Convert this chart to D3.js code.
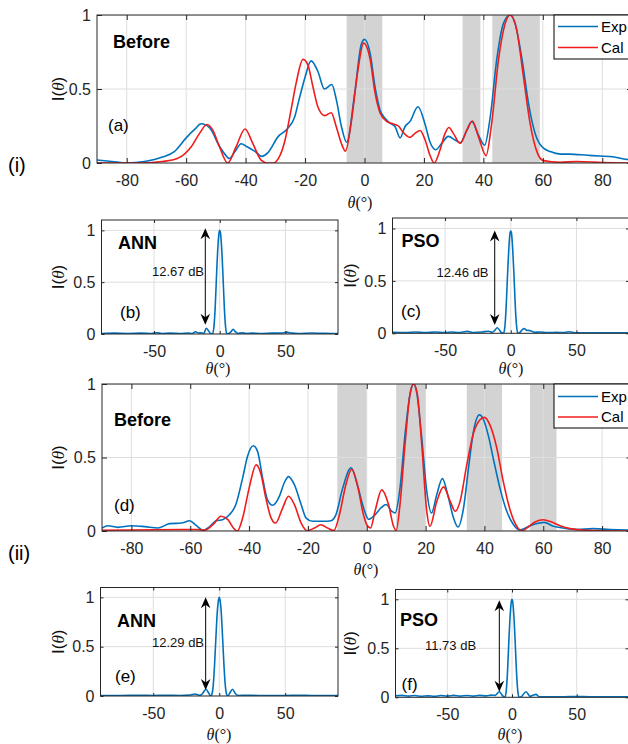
<!DOCTYPE html>
<html><head><meta charset="utf-8">
<script src="https://cdn.jsdelivr.net/npm/d3@7"></script>
<style>html,body{margin:0;padding:0;background:#fff}svg{display:block}</style>
</head><body><svg id="c" width="628" height="744"></svg>
<script>
// ---------- DATA ----------
const xTicksBig = [-80,-60,-40,-20,0,20,40,60,80];
const xTicksSmall = [-50,0,50];
const yTicks = [0,0.5,1];
const seriesNames = ["Exp","Cal"];

// (a) Before, case (i)
const thA_exp = [-90,-85,-80,-74,-68,-64,-60,-57,-55,-52,-49,-47,-45.5,-43.5,-41.5,-39.5,-37,-34.5,-32.5,-29,-26,-23.5,-22,-20,-18,-15.7,-13.5,-11,-9.5,-7.8,-6,-3.3,-1.1,0,1.9,3.5,5.2,7,8.6,10.3,12,13.6,15.3,18,20.4,22,24,26,28.2,30.5,32.2,34.4,36.1,38.3,40.4,42.3,44.5,46.7,49,50.7,53,55.2,57.4,59.7,62.5,66,69,75,79,84,88,90];
const vA_exp  = [0.02,0.01,0.0,0.01,0.04,0.077,0.17,0.23,0.265,0.235,0.12,0.06,0.03,0.08,0.13,0.11,0.08,0.045,0.07,0.18,0.23,0.31,0.43,0.58,0.69,0.62,0.50,0.53,0.43,0.25,0.14,0.47,0.80,0.835,0.74,0.52,0.36,0.30,0.27,0.245,0.17,0.245,0.28,0.38,0.26,0.144,0.09,0.133,0.18,0.155,0.137,0.22,0.28,0.19,0.12,0.31,0.70,0.94,1.0,0.94,0.70,0.40,0.20,0.11,0.077,0.06,0.06,0.052,0.047,0.04,0.025,0.02];
const thA_cal = [-90,-75,-68,-63,-58.3,-55.5,-53,-51,-48.8,-46,-43.2,-40.2,-37.6,-34.8,-32.5,-30.5,-29.7,-27,-24.7,-23,-20.7,-19,-17.4,-15.7,-13.4,-11.2,-9.5,-7.8,-6.4,-4.5,-2.2,-0.3,1.9,3.5,5.2,7.5,9.7,11.4,13.1,15.3,17,18.7,20.4,22,23.4,25.4,27.1,28.4,29.9,32.2,34.4,36.3,38.3,40.9,42.8,45.1,47.3,49,51.2,53.5,55.7,58,60.2,65.8,71.4,80,90];
const vA_cal  = [0,0,0.01,0.03,0.11,0.20,0.26,0.22,0.11,0.0,0.11,0.23,0.133,0.02,0.0,0.0,0.01,0.133,0.36,0.54,0.70,0.66,0.52,0.38,0.32,0.34,0.245,0.133,0.08,0.27,0.63,0.81,0.70,0.48,0.34,0.28,0.264,0.25,0.205,0.173,0.20,0.22,0.155,0.054,0.0,0.088,0.20,0.24,0.20,0.133,0.22,0.284,0.18,0.05,0.27,0.70,0.94,1.0,0.90,0.58,0.27,0.077,0.016,0.005,0.01,0.003,0.0];
const bandsA = [[-6,6],[33,39],[43,59]];

// (b) ANN, case (i)
const thB = [-90,-80,-70,-60,-52,-48,-44,-38,-30,-24,-21,-18.5,-16,-14,-12,-10.3,-8.5,-7,-5.5,-4.5,-3.5,-2.5,-1.5,-0.5,0,0.5,1.5,2.5,3.5,4.5,5.5,7,8.5,10.2,12,14,17,20,25,30,40,48,51,55,60,70,80,90];
const vB  = [0.005,0.008,0.005,0.008,0.005,0.012,0.005,0.008,0.005,0.01,0.005,0.022,0.01,0.012,0.005,0.056,0.03,0.005,0.0,0.06,0.25,0.55,0.82,0.98,1.0,0.98,0.82,0.55,0.25,0.06,0.0,0.005,0.02,0.046,0.02,0.005,0.012,0.005,0.008,0.005,0.008,0.01,0.018,0.008,0.005,0.01,0.006,0.005];
// (c) PSO, case (i)
const thC = [-90,-80,-72,-65,-58,-50,-45,-40,-33,-28,-22,-17,-14,-12,-10.4,-8.5,-7,-5.5,-4.5,-3.5,-2.5,-1.5,-0.5,0,0.5,1.5,2.5,3.5,4.5,5.5,7,8.5,10.2,12,15,18,22,28,35,40,44,50,60,70,80,90];
const vC  = [0.01,0.008,0.012,0.006,0.012,0.008,0.012,0.006,0.018,0.008,0.012,0.02,0.01,0.03,0.053,0.03,0.005,0.0,0.06,0.25,0.54,0.80,0.96,0.975,0.96,0.80,0.54,0.25,0.06,0.0,0.01,0.03,0.046,0.03,0.025,0.01,0.012,0.006,0.01,0.006,0.015,0.005,0.005,0.004,0.004,0.005];

// (d) Before, case (ii)
const thD_exp = [-90,-88,-84.6,-80,-75.5,-71,-67,-63,-60.2,-58,-55.5,-53.4,-51.2,-49,-46.7,-44.5,-42.2,-40.5,-38.6,-37.1,-35.4,-33.7,-32,-29.7,-28,-26.6,-24.6,-22.3,-20.6,-18.4,-14.4,-12.2,-10.5,-8.2,-5.3,-3.2,-0.9,0.6,2.8,5,6.6,8.5,9.6,11.3,13,14.7,16,17,18.7,20.4,22,23.8,25.7,27.8,29.5,31,32.9,34.6,36.3,38.3,39.7,41.4,43.1,45.3,47.6,49.9,52.1,54.4,57.2,60.3,63.5,66.9,71.4,77,82.7,88.4,90];
const vD_exp  = [0.02,0.036,0.025,0.036,0.03,0.02,0.05,0.054,0.07,0.038,0.005,0.03,0.07,0.077,0.11,0.18,0.36,0.51,0.58,0.54,0.36,0.21,0.175,0.236,0.33,0.37,0.315,0.18,0.088,0.066,0.066,0.07,0.11,0.29,0.43,0.315,0.145,0.08,0.11,0.16,0.18,0.134,0.122,0.29,0.655,0.93,1.0,0.94,0.63,0.27,0.122,0.247,0.356,0.224,0.088,0.027,0.156,0.43,0.68,0.79,0.757,0.644,0.485,0.29,0.134,0.043,0.007,0.025,0.048,0.059,0.032,0.02,0.01,0.016,0.01,0.007,0.005];
const thD_cal = [-90,-63,-57.4,-55.2,-52.3,-49.5,-47.2,-45.5,-44,-42.2,-40,-37.6,-36,-34.3,-32.6,-31,-28.6,-26.6,-24.6,-22.3,-20.3,-17.8,-15.6,-13.3,-11.2,-9.3,-7.1,-5.1,-3.2,-1.1,0,1.3,2.8,5.1,7.4,9.1,10,11.3,13,14.7,15.9,17.2,18.7,20.4,21.5,23.8,26.1,28.4,30.1,31.7,34,36.3,38.5,40,41.9,44.2,46.4,48.7,51,52.7,54.4,57.2,60,62.9,65.7,69.1,74.8,90];
const vD_cal  = [0.005,0.01,0.01,0.005,0.043,0.10,0.077,0.025,0.0,0.088,0.29,0.45,0.39,0.224,0.093,0.054,0.156,0.236,0.18,0.054,0.002,0.02,0.043,0.02,0.003,0.11,0.315,0.42,0.315,0.11,0.043,0.02,0.134,0.28,0.18,0.032,0.003,0.18,0.587,0.93,1.0,0.93,0.587,0.134,0.032,0.20,0.30,0.20,0.134,0.20,0.45,0.667,0.757,0.773,0.72,0.565,0.338,0.145,0.032,0.0,0.02,0.061,0.077,0.061,0.036,0.016,0.005,0.0];
const bandsD = [[-10,0],[10,20],[34,46],[55.5,64.5]];

// (e) ANN, case (ii)
const thE = [-90,-75,-60,-50,-40,-30,-22,-18.5,-15,-13,-10,-8,-6.5,-5.5,-4.5,-3.5,-2.5,-1.5,-0.5,0,0.5,1.5,2.5,3.5,4.5,5.5,6.5,8,10,12.5,15,20,30,40,50,60,70,80,90];
const vE  = [0.005,0.005,0.008,0.005,0.008,0.005,0.01,0.02,0.008,0.02,0.068,0.03,0.0,0.02,0.12,0.33,0.6,0.85,0.98,1.0,0.98,0.85,0.6,0.33,0.12,0.02,0.0,0.03,0.068,0.02,0.005,0.008,0.005,0.005,0.005,0.008,0.005,0.005,0.005];
// (f) PSO, case (ii)
const thF = [-90,-85,-80,-75,-70,-65,-60,-55,-50,-45,-40,-35,-30,-25,-20,-16,-13,-9.8,-7.5,-5.5,-4.5,-3.5,-2.5,-1.5,-0.5,0,0.5,1.5,2.5,3.5,4.5,5.5,7.5,10.8,14,16,18.5,21,25,30,40,50,60,70,80,90];
const vF  = [0.015,0.02,0.012,0.018,0.01,0.015,0.01,0.018,0.012,0.02,0.012,0.018,0.012,0.02,0.015,0.022,0.02,0.057,0.02,0.0,0.06,0.25,0.55,0.82,0.98,1.0,0.98,0.82,0.55,0.25,0.06,0.0,0.01,0.057,0.01,0.02,0.03,0.005,0.005,0.005,0.005,0.008,0.005,0.005,0.006,0.005];

// dB annotations
const dbLabels = ["12.67 dB","12.46 dB","12.29 dB","11.73 dB"];

// ---------- DRAW ----------
const SANS = "'Liberation Sans', Arial, Helvetica, sans-serif";
const SERIF = "'Liberation Serif', 'Times New Roman', serif";
const BLUE = "#0072BD", RED = "#f01c1c", AXC = "#262626", GRID = "#dedede", BAND = "#d3d3d3";
const svg = d3.select("#c");
svg.append("rect").attr("width",628).attr("height",744).attr("fill","#fff");
const zip = (a,b) => a.map((t,i)=>[t,b[i]]);

let clipId = 0;
function panel(cfg){
  const g = svg.append("g");
  const x = d3.scaleLinear().domain([-90,90]).range([cfg.l,cfg.r]);
  const y = d3.scaleLinear().domain([0,cfg.ymax]).range([cfg.b,cfg.t]);
  const id = "clip"+(clipId++);
  g.append("clipPath").attr("id",id).append("rect")
    .attr("x",cfg.l).attr("y",cfg.t).attr("width",cfg.r-cfg.l).attr("height",cfg.b-cfg.t);
  const plot = g.append("g").attr("clip-path",`url(#${id})`);
  (cfg.bands||[]).forEach(b=>{
    plot.append("rect").attr("x",x(b[0])).attr("y",cfg.t).attr("width",x(b[1])-x(b[0]))
      .attr("height",cfg.b-cfg.t).attr("fill",BAND);
  });
  cfg.xticks.forEach(v=>plot.append("line").attr("x1",x(v)).attr("x2",x(v)).attr("y1",cfg.t).attr("y2",cfg.b)
    .attr("stroke",GRID).attr("stroke-width",1));
  yTicks.forEach(v=>plot.append("line").attr("x1",cfg.l).attr("x2",cfg.r).attr("y1",y(v)).attr("y2",y(v))
    .attr("stroke",GRID).attr("stroke-width",1));
  const line = d3.line().x(d=>x(d[0])).y(d=>y(d[1])).curve(d3.curveMonotoneX);
  cfg.series.forEach(s=>{
    plot.append("path").datum(s.data).attr("d",line).attr("fill","none")
      .attr("stroke",s.color).attr("stroke-width",1.6).attr("stroke-linejoin","round");
  });
  const tl = cfg.tl;
  const fmt = d=>String(d);
  g.append("g").attr("transform",`translate(0,${cfg.b})`)
    .call(d3.axisBottom(x).tickValues(cfg.xticks).tickFormat(fmt).tickSize(-tl).tickSizeOuter(0).tickPadding(11.5));
  g.append("g").attr("transform",`translate(0,${cfg.t})`)
    .call(d3.axisTop(x).tickValues(cfg.xticks).tickFormat("").tickSize(-tl).tickSizeOuter(0));
  g.append("g").attr("transform",`translate(${cfg.l},0)`)
    .call(d3.axisLeft(y).tickValues(yTicks).tickFormat(fmt).tickSize(-tl).tickSizeOuter(0).tickPadding(6));
  g.append("g").attr("transform",`translate(${cfg.r},0)`)
    .call(d3.axisRight(y).tickValues(yTicks).tickFormat("").tickSize(-tl).tickSizeOuter(0));
  g.selectAll(".domain").remove();
  g.selectAll(".tick line").attr("stroke",AXC);
  g.selectAll(".tick text").attr("fill",AXC).style("font-family",SANS).style("font-size","16px");
  g.append("rect").attr("x",cfg.l).attr("y",cfg.t).attr("width",cfg.r-cfg.l).attr("height",cfg.b-cfg.t)
    .attr("fill","none").attr("stroke",AXC).attr("stroke-width",1);

  // y label I(θ)
  const yl = g.append("text").attr("transform",`translate(${cfg.ylx},${(cfg.t+cfg.b)/2}) rotate(-90)`)
    .attr("text-anchor","middle").style("font-family",SANS).style("font-size","17px").attr("fill","#111");
  yl.append("tspan").text("I(");
  yl.append("tspan").style("font-family",SERIF).style("font-style","italic").text("θ");
  yl.append("tspan").text(")");
  // x label θ(°)
  const xl = g.append("text").attr("x",cfg.xlx).attr("y",cfg.xly).attr("text-anchor","middle")
    .style("font-family",SERIF).style("font-size","16px").attr("fill","#111");
  xl.append("tspan").style("font-style","italic").text("θ");
  xl.append("tspan").text("(°)");

  // title & letter
  g.append("text").attr("x",cfg.title[1]).attr("y",cfg.title[2]).text(cfg.title[0])
    .style("font-family",SANS).style("font-size","18px").style("font-weight","bold").attr("fill","#000");
  g.append("text").attr("x",cfg.letter[1]).attr("y",cfg.letter[2]).text(cfg.letter[0])
    .style("font-family",SANS).style("font-size","17px").attr("fill","#000");

  if(cfg.legend){
    const L = cfg.legend;
    g.append("rect").attr("x",L.x).attr("y",L.y).attr("width",100).attr("height",L.h)
      .attr("fill","#fff").attr("stroke","#000").attr("stroke-width",1);
    cfg.series.forEach((s,i)=>{
      const yy = L.rows[i];
      g.append("line").attr("x1",L.x+4).attr("x2",L.x+44).attr("y1",yy).attr("y2",yy)
        .attr("stroke",s.color).attr("stroke-width",1.6);
      g.append("text").attr("x",L.x+47).attr("y",yy).attr("dy","0.36em").text(s.name)
        .style("font-family",SANS).style("font-size","15px").attr("fill","#000");
    });
  }
  if(cfg.arrow){
    const A = cfg.arrow;
    const ax0 = x(A.theta), yTop = y(A.top), yBot = y(A.bottom);
    g.append("line").attr("x1",ax0).attr("x2",ax0).attr("y1",yTop+6).attr("y2",yBot-6)
      .attr("stroke","#000").attr("stroke-width",1);
    const hl=11, hw=4.8, nb=7.5;
    g.append("path").attr("d",`M${ax0},${yTop} L${ax0-hw},${yTop+hl} L${ax0},${yTop+nb} L${ax0+hw},${yTop+hl} Z`).attr("fill","#000");
    g.append("path").attr("d",`M${ax0},${yBot} L${ax0-hw},${yBot-hl} L${ax0},${yBot-nb} L${ax0+hw},${yBot-hl} Z`).attr("fill","#000");
    g.append("text").attr("x",A.lx).attr("y",A.ly).text(A.label)
      .style("font-family",SANS).style("font-size","13px").attr("fill","#111");
  }
  return g;
}

panel({l:97,r:632,t:15,b:163,ymax:1,tl:5,xticks:xTicksBig,bands:bandsA,
  series:[{name:seriesNames[0],color:BLUE,data:zip(thA_exp,vA_exp)},{name:seriesNames[1],color:RED,data:zip(thA_cal,vA_cal)}],
  ylx:64,xlx:360,xly:208,title:["Before",113,47.5],letter:["(a)",108,131],
  legend:{x:554,y:15,h:44,rows:[26.5,47.5]}});

panel({l:101.5,r:338,t:220,b:334,ymax:1.1,tl:3,xticks:xTicksSmall,
  series:[{name:"Exp",color:BLUE,data:zip(thB,vB)}],
  ylx:64,xlx:218,xly:374,title:["ANN",118,249],letter:["(b)",120,318],
  arrow:{theta:-11,top:1.02,bottom:0.09,label:dbLabels[0],lx:152,ly:276}});

panel({l:392.5,r:629,t:218,b:333.3,ymax:1.1,tl:3,xticks:xTicksSmall,
  series:[{name:"Exp",color:BLUE,data:zip(thC,vC)}],
  ylx:356,xlx:511,xly:374,title:["PSO",401.5,246.7],letter:["(c)",401,317],
  arrow:{theta:-12.2,top:0.98,bottom:0.08,label:dbLabels[1],lx:436.5,ly:276.5}});

panel({l:102,r:631.5,t:384,b:531,ymax:1,tl:5,xticks:xTicksBig,bands:bandsD,
  series:[{name:seriesNames[0],color:BLUE,data:zip(thD_exp,vD_exp)},{name:seriesNames[1],color:RED,data:zip(thD_cal,vD_cal)}],
  ylx:64,xlx:366,xly:575,title:["Before",114,426],letter:["(d)",114,511],
  legend:{x:554,y:384,h:44,rows:[396.5,417]}});

panel({l:100.5,r:338,t:587.5,b:696,ymax:1.1,tl:3,xticks:xTicksSmall,
  series:[{name:"Exp",color:BLUE,data:zip(thE,vE)}],
  ylx:64,xlx:219,xly:740,title:["ANN",117,626.5],letter:["(e)",115,682],
  arrow:{theta:-10.3,top:1.0,bottom:0.06,label:dbLabels[2],lx:152,ly:647}});

panel({l:395.5,r:628.5,t:589.5,b:697.3,ymax:1.1,tl:3,xticks:xTicksSmall,
  series:[{name:"Exp",color:BLUE,data:zip(thF,vF)}],
  ylx:356,xlx:510,xly:740,title:["PSO",400,625.7],letter:["(f)",401.5,690],
  arrow:{theta:-9.8,top:0.99,bottom:0.057,label:dbLabels[3],lx:425,ly:650}});

svg.append("text").attr("x",8).attr("y",171.5).text("(i)")
  .style("font-family",SANS).style("font-size","20px").attr("fill","#000");
svg.append("text").attr("x",8).attr("y",559.5).text("(ii)")
  .style("font-family",SANS).style("font-size","20px").attr("fill","#000");
</script></body></html>
